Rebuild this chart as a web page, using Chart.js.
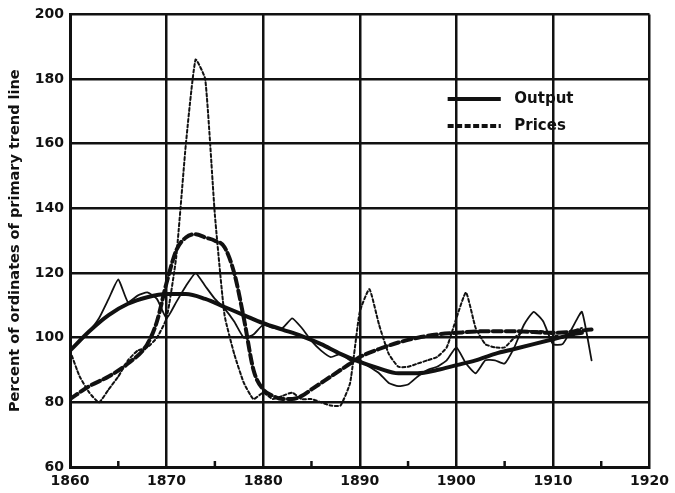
<!DOCTYPE html>
<html>
<head>
<meta charset="utf-8">
<script src="https://cdn.jsdelivr.net/npm/chart.js@4"></script>
<style>
html,body{margin:0;padding:0;background:#fff;}
canvas{display:block;}
</style>
</head>
<body>
<canvas id="c" width="675" height="493"></canvas>
<script>
// ---- data ----
const outputYears = [1860,1861,1862,1863,1864,1865,1866,1867,1868,1869,1870,1871,1872,1873,1874,1875,1876,1877,1878,1879,1880,1881,1882,1883,1884,1885,1886,1887,1888,1889,1890,1891,1892,1893,1894,1895,1896,1897,1898,1899,1900,1901,1902,1903,1904,1905,1906,1907,1908,1909,1910,1911,1912,1913,1914];
const outputValues = [96,99,102,106,112,118,111,113,114,112,106,111,116,120,116,112,109,105,100,101,104,103,103,106,103,99,96,94,95,93,93,91,89,86,85,85.5,88,90,91,93,97,92,89,93,93,92,97,104,108,105,98,98,103,108,93];

const pricesYears = [1860,1861,1862,1863,1864,1865,1866,1867,1868,1869,1870,1871,1872,1873,1874,1875,1876,1877,1878,1879,1880,1881,1882,1883,1884,1885,1886,1887,1888,1889,1890,1891,1892,1893,1894,1895,1896,1897,1898,1899,1900,1901,1902,1903,1904,1905,1906,1907,1908,1909,1910,1911,1912,1913];
const pricesValues = [96,88,83,80,84,88,93,96,97,100,106,125,160,186,180,138,107,95,86,81,83,81,82,83,81,81,80,79,79,86,108,115,104,95,91,91,92,93,94,97,106,114,103,98,97,97,100,102,102,102,101,100,102,103];

const outputTrendYears = [1860,1862,1864,1866,1868,1870,1872,1874,1876,1878,1880,1882,1884,1886,1888,1890,1892,1894,1896,1898,1900,1902,1904,1906,1908,1910,1912,1913];
const outputTrendValues = [96,102,107,110.5,112.5,113.5,113.5,112,109.5,107,104.5,102.5,100.5,98,95,92.5,90.5,89,89,90,91.5,93,95,96.5,98,99.5,101,101.5];

const pricesTrendYears = [1860,1862,1864,1866,1868,1869,1870,1871,1872,1873,1874,1875,1876,1877,1878,1879,1880,1881,1882,1883,1884,1885,1886,1887,1888,1889,1890,1892,1894,1896,1898,1900,1903,1906,1910,1914];
const pricesTrendValues = [81,85,88,92,98,105,117,127,131,132,131,130,128,120,106,90,84,82,81,81,82,84,86,88,90,92,94,96.5,98.5,100,101,101.5,102,102,101.5,102.5];

const xTickYears = [1860,1870,1880,1890,1900,1910,1920];
const minorTickYears = [1865,1875,1885,1895,1905,1915];
const yTickValues = [60,80,100,120,140,160,180,200];
const legendLabels = ['Output','Prices'];
const yTitle = 'Percent of ordinates of primary trend line';

const pts = (xs, ys) => xs.map((x, i) => ({x: x, y: ys[i]}));
const INK = '#111';

const legendPlugin = {
  id: 'innerLegend',
  afterDatasetsDraw(chart) {
    const ctx = chart.ctx, xs = chart.scales.x, ys = chart.scales.y;
    // minor tick marks on the bottom axis
    ctx.save();
    ctx.strokeStyle = INK; ctx.lineWidth = 2.5;
    minorTickYears.forEach(yr => {
      const px = xs.getPixelForValue(yr);
      ctx.beginPath(); ctx.moveTo(px, ys.bottom); ctx.lineTo(px, ys.bottom - 6); ctx.stroke();
    });
    // legend
    const x0 = xs.getPixelForValue(1899.1), x1 = xs.getPixelForValue(1904.6), xt = xs.getPixelForValue(1906.0);
    const rows = [ys.getPixelForValue(173.8), ys.getPixelForValue(165.5)];
    const dashes = [[], [6, 2.5]];
    ctx.font = 'bold 15px "DejaVu Sans", sans-serif';
    ctx.textBaseline = 'middle';
    ctx.fillStyle = INK;
    rows.forEach((py, i) => {
      ctx.setLineDash(dashes[i]);
      ctx.lineWidth = 4;
      ctx.beginPath(); ctx.moveTo(x0, py); ctx.lineTo(x1, py); ctx.stroke();
      ctx.setLineDash([]);
      ctx.fillText(legendLabels[i], xt, py);
    });
    ctx.restore();
  }
};

const tickFont = {family: '"DejaVu Sans", sans-serif', weight: 'bold', size: 14};

new Chart(document.getElementById('c'), {
  type: 'line',
  data: {
    datasets: [
      {label: 'Output', data: pts(outputYears, outputValues), borderColor: INK, borderWidth: 1.8, tension: 0.15},
      {label: 'Prices', data: pts(pricesYears, pricesValues), borderColor: INK, borderWidth: 2, borderDash: [3, 2.5], tension: 0.15},
      {label: 'Output trend', data: pts(outputTrendYears, outputTrendValues), borderColor: INK, borderWidth: 4, cubicInterpolationMode: 'monotone'},
      {label: 'Prices trend', data: pts(pricesTrendYears, pricesTrendValues), borderColor: INK, borderWidth: 4, borderDash: [9, 4], cubicInterpolationMode: 'monotone'}
    ]
  },
  options: {
    responsive: false,
    animation: false,
    devicePixelRatio: 1,
    layout: {padding: {left: 2, right: 17, top: 13, bottom: 0}},
    elements: {point: {radius: 0}, line: {fill: false, borderCapStyle: 'round', borderJoinStyle: 'round'}},
    plugins: {legend: {display: false}, tooltip: {enabled: false}},
    scales: {
      x: {
        type: 'linear', min: 1860, max: 1920,
        afterBuildTicks: s => { s.ticks = xTickYears.map(v => ({value: v})); },
        afterFit: s => { s.height = 26; },
        grid: {color: INK, lineWidth: 2.5, drawTicks: false},
        border: {color: INK, width: 3},
        ticks: {color: INK, padding: 6, maxRotation: 0, font: tickFont, callback: v => String(v)}
      },
      y: {
        type: 'linear', min: 60, max: 200,
        afterBuildTicks: s => { s.ticks = yTickValues.map(v => ({value: v})); },
        afterFit: s => { s.width = 68; },
        grid: {color: INK, lineWidth: 2.5, drawTicks: false},
        border: {color: INK, width: 3},
        ticks: {color: INK, padding: 6, font: tickFont, callback: v => String(v)},
        title: {display: true, text: yTitle, color: INK, padding: {top: 5, bottom: 0}, font: {family: '"DejaVu Sans", sans-serif', weight: 'bold', size: 14.5}}
      }
    }
  },
  plugins: [legendPlugin]
});
</script>
</body>
</html>
